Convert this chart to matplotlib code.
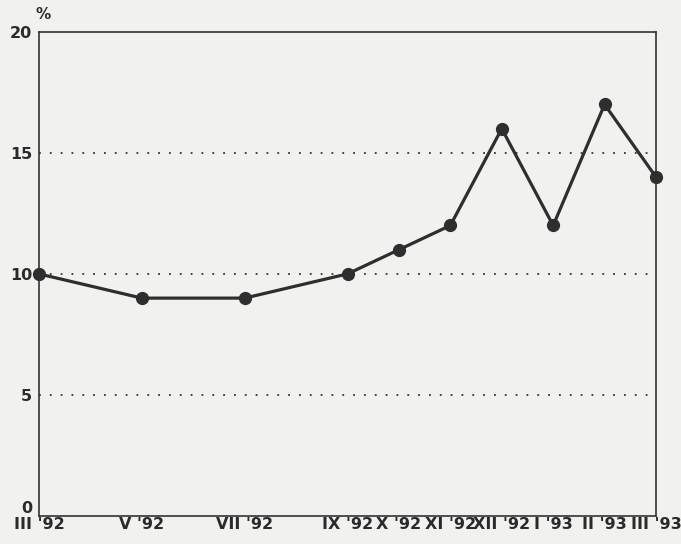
import matplotlib.pyplot as plt

# months since III '92
months = [0, 2, 4, 6, 7, 8, 9, 10, 11, 12]
labels = ["III '92", "V '92", "VII '92", "IX '92", "X '92", "XI '92",
          "XII '92", "I '93", "II '93", "III '93"]
values = [10, 9, 9, 10, 11, 12, 16, 12, 17, 14]

bg = '#f1f1ef'
fig = plt.figure(figsize=(6.81, 5.44), dpi=100, facecolor=bg)
ax = fig.add_axes([0.0573, 0.0515, 0.906, 0.89], facecolor=bg)

for y in [5, 10, 15]:
    ax.axhline(y, color='#333333', linestyle=(0, (1, 5)), linewidth=1.3, zorder=1)

ax.plot(months, values, color='#2e2e2e', linewidth=2.3, marker='o',
        markersize=8.5, clip_on=False, zorder=3)

ax.set_xlim(0, 12)
ax.set_ylim(0, 20)
ax.set_xticks(months)
ax.set_xticklabels(labels, fontsize=11.5, fontweight='bold', color='#2a2a2a')
ax.set_yticks([0, 5, 10, 15, 20])
ax.set_yticklabels(['0', '5', '10', '15', '20'], fontsize=11.5,
                   fontweight='bold', color='#2a2a2a')
ax.tick_params(axis='y', length=0, pad=5)
ax.tick_params(axis='x', length=0, pad=1)
ax.yaxis.get_majorticklabels()[0].set_verticalalignment('bottom')

for s in ax.spines.values():
    s.set_color('#333333')
    s.set_linewidth(1.2)

ax.text(0.006, 1.02, '%', transform=ax.transAxes, fontsize=11,
        fontweight='bold', color='#2a2a2a', ha='center', va='bottom')

plt.savefig('out.png', dpi=100, facecolor=bg)
